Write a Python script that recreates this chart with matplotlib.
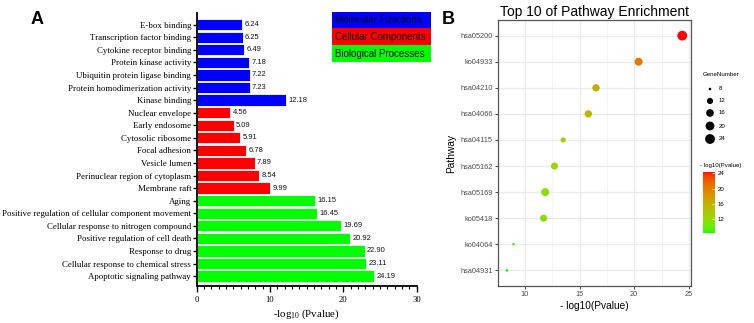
import numpy as np
import matplotlib
matplotlib.use("Agg")
import matplotlib.pyplot as plt
from matplotlib.colors import ListedColormap, Normalize

# ---------------- data ----------------
terms = ["E-box binding", "Transcription factor binding", "Cytokine receptor binding",
         "Protein kinase activity", "Ubiquitin protein ligase binding",
         "Protein homodimerization activity", "Kinase binding",
         "Nuclear envelope", "Early endosome", "Cytosolic ribosome", "Focal adhesion",
         "Vesicle lumen", "Perinuclear region of cytoplasm", "Membrane raft",
         "Aging", "Positive regulation of cellular component movement",
         "Cellular response to nitrogen compound", "Positive regulation of cell death",
         "Response to drug", "Cellular response to chemical stress",
         "Apoptotic signaling pathway"]
term_values = [6.24, 6.25, 6.49, 7.18, 7.22, 7.23, 12.18,
               4.56, 5.09, 5.91, 6.78, 7.89, 8.54, 9.99,
               16.15, 16.45, 19.69, 20.92, 22.90, 23.11, 24.19]
term_groups = ["MF"] * 7 + ["CC"] * 7 + ["BP"] * 7
group_names = ["Molecular Functions", "Cellular Components", "Biological Processes"]
group_keys = ["MF", "CC", "BP"]
group_colors = {"MF": "#0000FF", "CC": "#FF0000", "BP": "#00FF00"}
xticks_a = [0, 10, 20, 30]

pathways = ["hsa05200", "ko04933", "hsa04210", "hsa04066", "hsa04115",
            "hsa05162", "hsa05169", "ko05418", "ko04064", "hsa04931"]
path_logp = [24.4, 20.4, 16.5, 15.8, 13.5, 12.7, 11.85, 11.7, 8.95, 8.35]
path_genes = [24, 17, 15, 15, 10, 14, 17, 14, 8, 8]
size_breaks = [8, 12, 16, 20, 24]
color_breaks = [12, 16, 20, 24]
xticks_b = [10, 15, 20, 25]

W, H = 754, 323
fig = plt.figure(figsize=(W / 100, H / 100), dpi=100)
fig.patch.set_facecolor("white")


def rect(l, t, r, b):
    return [l / W, 1 - b / H, (r - l) / W, (b - t) / H]


def fx(x):
    return x / W


def fy(y):
    return 1 - y / H


SERIF = "Liberation Serif"
SANS = "Liberation Sans"

# ---------------- Panel A ----------------
axA = fig.add_axes(rect(196.7, 13, 416.7, 286))
ypos = np.arange(len(terms))
cols = [group_colors[g] for g in term_groups]
axA.barh(ypos, term_values, height=0.9, color=cols, edgecolor="white", linewidth=0.6)
for y, v in zip(ypos, term_values):
    axA.text(v + 0.3, y, f"{v:.2f}", va="center", ha="left", fontsize=5.4,
             family=SANS, color="#111111")
axA.set_ylim(20.79, -0.93)
axA.set_xlim(0, 30)
axA.set_yticks(ypos)
axA.set_yticklabels(terms, family=SERIF, fontsize=6.4)
axA.set_xticks(xticks_a)
axA.set_xticklabels([str(t) for t in xticks_a], family=SERIF, fontsize=6.2)
axA.set_xticks(np.arange(0, 31, 1), minor=True)
for s in ["top", "right"]:
    axA.spines[s].set_visible(False)
for s in ["left", "bottom"]:
    axA.spines[s].set_linewidth(1.3)
axA.tick_params(axis="y", length=3, width=1, pad=1)
axA.tick_params(axis="x", which="major", length=4, width=1, pad=3)
axA.tick_params(axis="x", which="minor", length=2.2, width=0.8)
axA.set_xlabel(r"-log$_{\mathregular{10}}$ (Pvalue)", family=SERIF, fontsize=7.8, labelpad=3)

# legend boxes A
box_tops = [12.3, 28.5, 45.2]
box_bots = [28.5, 45.2, 62.3]
for name, key, t, b in zip(group_names, group_keys, box_tops, box_bots):
    fig.patches.append(plt.Rectangle((fx(331.7), fy(b)), (431 - 331.7) / W, (b - t) / H,
                                     transform=fig.transFigure, facecolor=group_colors[key],
                                     edgecolor="none"))
    fig.text(fx(335), fy((t + b) / 2), name, ha="left", va="center", fontsize=7.0,
             family=SANS, color="black")

fig.text(fx(31), fy(19.5), "A", ha="left", va="center", fontsize=13, fontweight="bold",
         family=SANS)
fig.text(fx(442), fy(19), "B", ha="left", va="center", fontsize=13, fontweight="bold",
         family=SANS)

# ---------------- Panel B ----------------
# ggplot-like Lab gradient green -> red
lab_lo = np.array([87.73, -86.18, 83.18])
lab_hi = np.array([53.24, 80.09, 67.20])


def lab2rgb(lab):
    L, a, b = lab
    fy_ = (L + 16) / 116
    fx_ = fy_ + a / 500
    fz_ = fy_ - b / 200

    def finv(t):
        return t ** 3 if t > 6 / 29 else 3 * (6 / 29) ** 2 * (t - 4 / 29)
    X, Y, Z = 0.95047 * finv(fx_), finv(fy_), 1.08883 * finv(fz_)
    M = np.array([[3.2406, -1.5372, -0.4986], [-0.9689, 1.8758, 0.0415],
                  [0.0557, -0.2040, 1.0570]])
    rgb = M @ np.array([X, Y, Z])
    out = []
    for c in rgb:
        c = max(c, 0)
        c = 1.055 * c ** (1 / 2.4) - 0.055 if c > 0.0031308 else 12.92 * c
        out.append(min(max(c, 0), 1))
    return out


cmap = ListedColormap([lab2rgb(lab_lo + (lab_hi - lab_lo) * t) for t in np.linspace(0, 1, 256)])
norm = Normalize(vmin=min(path_logp), vmax=max(path_logp))


def size_pts(g):
    g = np.asarray(g, dtype=float)
    d_px = 2.6 + 7.2 * np.sqrt(np.clip((g - 8) / 16, 0, None))
    return (d_px * 0.72) ** 2


axB = fig.add_axes(rect(497.7, 20, 691, 286))
yb = np.arange(len(pathways))
axB.set_xlim(7.6, 25.2)
axB.set_ylim(len(pathways) - 1 + 0.6, -0.6)
axB.set_xticks(xticks_b)
axB.set_xticks([7.5, 12.5, 17.5, 22.5], minor=True)
axB.set_yticks(yb)
axB.set_yticklabels(pathways)
axB.grid(True, which="major", color="#EBEBEB", linewidth=0.9, zorder=0)
axB.grid(True, which="minor", axis="x", color="#F2F2F2", linewidth=0.5, zorder=0)
axB.set_axisbelow(True)
axB.scatter(path_logp, yb, s=size_pts(path_genes), c=path_logp, cmap=cmap, norm=norm,
            edgecolors="none", zorder=3)
for s in axB.spines.values():
    s.set_color("#555555")
    s.set_linewidth(0.9)
axB.tick_params(axis="both", which="major", length=2.2, width=0.6, color="#333333",
                labelsize=5.3, labelcolor="#4D4D4D", pad=1.5)
axB.tick_params(axis="x", which="minor", length=0)
for lab in axB.get_xticklabels() + axB.get_yticklabels():
    lab.set_family(SANS)
axB.set_xlabel("- log10(Pvalue)", family=SANS, fontsize=7.3, labelpad=2)
axB.set_ylabel("Pathway", family=SANS, fontsize=7.3, labelpad=3)
axB.set_title("Top 10 of Pathway Enrichment", family=SANS, fontsize=10, pad=3)

# size legend
fig.text(fx(703), fy(75), "GeneNumber", ha="left", va="center", fontsize=4.4, family=SANS)
leg_y = [89, 101, 113, 126, 139]
ovl = fig.add_axes([0, 0, 1, 1], zorder=-1)
ovl.set_xlim(0, W)
ovl.set_ylim(H, 0)
ovl.axis("off")
ovl.scatter([710] * len(size_breaks), leg_y, s=size_pts(size_breaks), color="black",
            edgecolors="none")
for y, s in zip(leg_y, size_breaks):
    ovl.text(719, y, str(s), ha="left", va="center", fontsize=4.4, family=SANS)

# colour legend
fig.text(fx(700), fy(165), "- log10(Pvalue)", ha="left", va="center", fontsize=4.4,
         family=SANS)
cax = fig.add_axes(rect(703, 171.7, 715, 233))
sm = plt.cm.ScalarMappable(cmap=cmap, norm=norm)
cb = fig.colorbar(sm, cax=cax, ticks=color_breaks)
cb.outline.set_visible(False)
cax.tick_params(length=2.5, width=0.5, color="white", direction="in", labelsize=4.4, pad=2)
for lab in cax.get_yticklabels():
    lab.set_family(SANS)

fig.savefig("out.png", dpi=100)
